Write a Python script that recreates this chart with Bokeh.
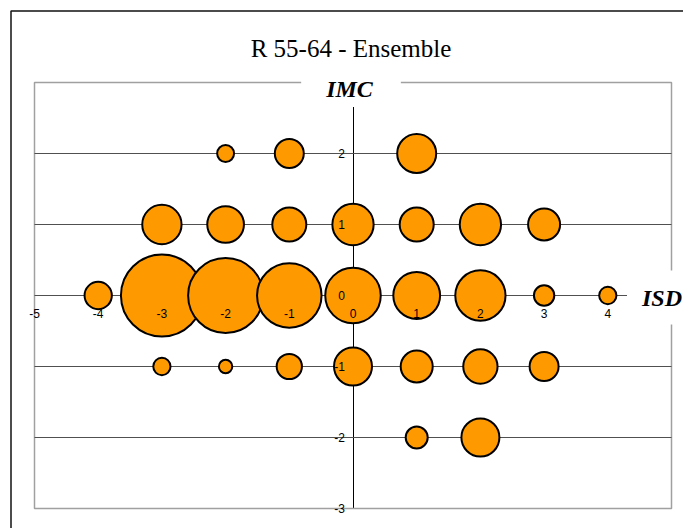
import numpy as np
from bokeh.plotting import figure
from bokeh.models import ColumnDataSource, LinearAxis, FixedTicker, Range1d, Label, BoxAnnotation
from bokeh.embed import file_html
from bokeh.resources import INLINE

# ---------------- data ----------------
title_text = "R 55-64 - Ensemble"
x_title = "ISD"
y_title = "IMC"

isd = [-2, -1, 1,
       -3, -2, -1, 0, 1, 2, 3,
       -4, -3, -2, -1, 0, 1, 2, 3, 4,
       -3, -2, -1, 0, 1, 2, 3,
       1, 2]
imc = [2, 2, 2,
       1, 1, 1, 1, 1, 1, 1,
       0, 0, 0, 0, 0, 0, 0, 0, 0,
       -1, -1, -1, -1, -1, -1, -1,
       -2, -2]
effectif = [5.6, 15.0, 26.3,
            26.7, 23.4, 20.3, 29.3, 20.3, 29.3, 18.1,
            13.4, 110.0, 92.6, 69.1, 51.7, 37.2, 42.7, 7.8, 5.8,
            5.8, 3.7, 11.6, 25.0, 18.1, 20.6, 15.0,
            9.0, 25.0]

x_ticks = [-5, -4, -3, -2, -1, 0, 1, 2, 3, 4]
y_ticks = [-3, -2, -1, 0, 1, 2]
grid_ticks = [-2, -1, 0, 1, 2]
x_min, x_max = -5, 5
y_min, y_max = -3, 3

# ---------------- layout (pixels) ----------------
W, H = 683, 528
PLOT_L, PLOT_R, PLOT_T, PLOT_B = 34, 671, 82, 508     # plot-area box on the canvas
sx = (PLOT_R - PLOT_L) / (x_max - x_min)               # px per x unit
sy = (PLOT_B - PLOT_T) / (y_max - y_min)               # px per y unit
xr = Range1d(x_min - PLOT_L / sx, x_max + (W - PLOT_R) / sx)
yr = Range1d(y_min - (H - PLOT_B) / sy, y_max + PLOT_T / sy)

# ---------------- styles ----------------
BUBBLE_PX = 8.0       # diameter = BUBBLE_PX * sqrt(value)
LINE_W = 2
ORANGE = "#FF9900"
TICK_FONT = "Liberation Sans"
SERIF = "Liberation Serif"

sizes = [BUBBLE_PX * np.sqrt(v) - LINE_W for v in effectif]
src = ColumnDataSource(dict(isd=isd, imc=imc, effectif=effectif, size=sizes))

p = figure(
    x_range=xr, y_range=yr, width=W, height=H, min_border=0,
    x_axis_type=None, y_axis_type=None,
    output_backend="svg", toolbar_location=None,
    background_fill_color="white", border_fill_color="white",
)
p.outline_line_color = None
p.xgrid.visible = False
p.ygrid.visible = False

# outer chart-area border (right/bottom edges fall outside the page)
p.add_layout(BoxAnnotation(left=x_min - (PLOT_L - 10.5) / sx, top=y_max + (PLOT_T - 10.5) / sy,
                           right=x_max + 100, bottom=y_min - 100,
                           fill_alpha=0, line_color="#111111", line_alpha=1.0,
                           line_width=1.5, level="underlay"))
# plot-area border
p.add_layout(BoxAnnotation(left=x_min, right=x_max, bottom=y_min, top=y_max,
                           fill_alpha=0, line_color="#a0a0a0", line_alpha=1.0,
                           line_width=1.5, level="underlay"))

# horizontal grid lines
p.segment(x0=[x_min] * len(grid_ticks), x1=[x_max] * len(grid_ticks),
          y0=grid_ticks, y1=grid_ticks, line_color="#505050", line_width=1)

# axes lines + ticks underneath bubbles
x_under = LinearAxis(fixed_location=0, bounds=(x_min, x_max), ticker=FixedTicker(ticks=x_ticks),
                     level="underlay", axis_line_color="black", axis_line_width=1,
                     major_tick_out=0, major_tick_in=0, major_tick_line_color=None,
                     minor_tick_line_color=None, major_label_text_alpha=0)
y_under = LinearAxis(fixed_location=0, bounds=(y_min, y_max), ticker=FixedTicker(ticks=y_ticks),
                     level="underlay", axis_line_color="black", axis_line_width=1,
                     major_tick_out=5, major_tick_in=0, major_tick_line_color="black",
                     minor_tick_line_color=None, major_label_text_alpha=0)
p.add_layout(x_under, "below")
p.add_layout(y_under, "left")

# bubbles
p.scatter(x="isd", y="imc", size="size", source=src, marker="circle",
          fill_color=ORANGE, line_color="black", line_width=LINE_W)

# tick labels drawn over bubbles
x_over = LinearAxis(fixed_location=0, bounds=(x_min, x_max), ticker=FixedTicker(ticks=x_ticks),
                    level="overlay", axis_line_color=None, major_tick_line_color=None,
                    minor_tick_line_color=None, major_tick_out=0, major_tick_in=0,
                    major_label_standoff=13, major_label_overrides={t: str(t) for t in x_ticks},
                    major_label_text_font=TICK_FONT, major_label_text_font_size="12px",
                    major_label_text_color="black")
y_over = LinearAxis(fixed_location=0, bounds=(y_min, y_max), ticker=FixedTicker(ticks=y_ticks),
                    level="overlay", axis_line_color=None, major_tick_line_color=None,
                    minor_tick_line_color=None, major_tick_out=0, major_tick_in=0,
                    major_label_standoff=8, major_label_overrides={t: str(t) for t in y_ticks},
                    major_label_text_font=TICK_FONT, major_label_text_font_size="12px",
                    major_label_text_color="black")
p.add_layout(x_over, "below")
p.add_layout(y_over, "left")

# titles
p.add_layout(Label(x=0, y=y_max, y_offset=34, x_offset=-2, text=title_text,
                   text_font=SERIF, text_font_size="25px", text_color="black",
                   text_align="center", text_baseline="middle"))
p.add_layout(Label(x=0, y=y_max, y_offset=-6, x_offset=-2, text=y_title,
                   text_font=SERIF, text_font_style="bold italic", text_font_size="24px",
                   text_color="black", text_align="center", text_baseline="middle",
                   background_fill_color="white",
                   padding=dict(left=25, right=28, top=6, bottom=5)))
p.add_layout(Label(x=x_max, y=0, x_offset=-11, y_offset=-2, text=x_title,
                   text_font=SERIF, text_font_style="bold italic", text_font_size="24px",
                   text_color="black", text_align="center", text_baseline="middle",
                   background_fill_color="white",
                   padding=dict(left=15, right=12, top=14, bottom=14)))

open("out.html", "w").write(file_html(p, INLINE))
